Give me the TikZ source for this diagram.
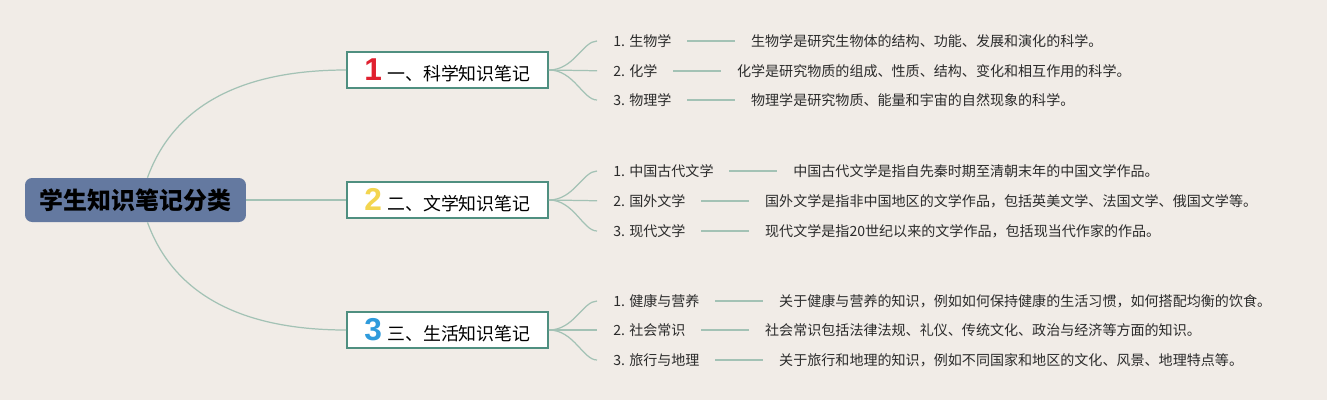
\documentclass[tikz,border=0pt]{standalone}
\usepackage{fontspec}
\setmainfont{Noto Sans CJK SC}
\newfontfamily\numfont{Liberation Sans}
\usepackage{xcolor}
\usetikzlibrary{positioning}

\definecolor{paper}{HTML}{F1ECE7}
\definecolor{rootblue}{HTML}{6479A0}
\definecolor{boxteal}{HTML}{4F8F80}
\definecolor{wirecol}{HTML}{A3C2B5}
\definecolor{numred}{HTML}{E0202F}
\definecolor{numyellow}{HTML}{F3D54F}
\definecolor{numblue}{HTML}{2F9BDC}
\definecolor{ink}{HTML}{2B2B2B}

\newcommand\topicnum[2]{{\numfont\fontsize{18}{18}\selectfont\bfseries\color{#1}#2}\hspace{3pt}}

\begin{document}
\begin{tikzpicture}[
  x=0.02cm, y=-0.02cm,
  root/.style={fill=rootblue, rounded corners=4pt, minimum width=4.42cm,
               minimum height=0.88cm, text=black,
               font=\fontsize{13.6}{16}\selectfont\bfseries},
  topic/.style={draw=boxteal, line width=1.1pt, fill=white, minimum width=4.02cm,
                minimum height=0.72cm, text=black, font=\fontsize{10.2}{12}\selectfont},
  leaf/.style={anchor=west, inner sep=0pt, text=ink, font=\fontsize{8.0}{10}\selectfont},
  wire/.style={draw=wirecol, line width=0.7pt},
  twig/.style={wire, shorten >=0.32cm},
  stem/.style={wire, shorten <=0.31cm, shorten >=0.31cm}
]
  % canvas
  \fill[paper] (0,0) rectangle (1327,400);
  \useasboundingbox (0,0) rectangle (1327,400);

  % Root
  \node[root] (root) at (135.5,200) {学生知识笔记分类};

  % Topics
  \node[topic] (sci) at (447.5,70) {\topicnum{numred}{1}一、科学知识笔记};
  \node[topic] (lit) at (447.5,200) {\topicnum{numyellow}{2}二、文学知识笔记};
  \node[topic] (life) at (447.5,330) {\topicnum{numblue}{3}三、生活知识笔记};

  % Science leaves
  \node[leaf] (bio) at (613,41) {1. 生物学};
  \node[leaf] (chem) at (613,71) {2. 化学};
  \node[leaf] (phys) at (613,100) {3. 物理学};
  \node[leaf, right=1.58cm of bio] (biod) {生物学是研究生物体的结构、功能、发展和演化的科学。};
  \node[leaf, right=1.58cm of chem] (chemd) {化学是研究物质的组成、性质、结构、变化和相互作用的科学。};
  \node[leaf, right=1.58cm of phys] (physd) {物理学是研究物质、能量和宇宙的自然现象的科学。};

  % Literature leaves
  \node[leaf] (anc) at (613,171) {1. 中国古代文学};
  \node[leaf] (frn) at (613,201) {2. 国外文学};
  \node[leaf] (mod) at (613,231) {3. 现代文学};
  \node[leaf, right=1.58cm of anc] (ancd) {中国古代文学是指自先秦时期至清朝末年的中国文学作品。};
  \node[leaf, right=1.58cm of frn] (frnd) {国外文学是指非中国地区的文学作品，包括英美文学、法国文学、俄国文学等。};
  \node[leaf, right=1.58cm of mod] (modd) {现代文学是指20世纪以来的文学作品，包括现当代作家的作品。};

  % Life leaves
  \node[leaf] (hlth) at (613,301) {1. 健康与营养};
  \node[leaf] (soc) at (613,330) {2. 社会常识};
  \node[leaf] (trav) at (613,360) {3. 旅行与地理};
  \node[leaf, right=1.58cm of hlth] (hlthd) {关于健康与营养的知识，例如如何保持健康的生活习惯，如何搭配均衡的饮食。};
  \node[leaf, right=1.58cm of soc] (socd) {社会常识包括法律法规、礼仪、传统文化、政治与经济等方面的知识。};
  \node[leaf, right=1.58cm of trav] (travd) {关于旅行和地理的知识，例如不同国家和地区的文化、风景、地理特点等。};

  % wires
  \draw[wire] ([xshift=0.24cm]root.north) .. controls (172,110) and (235,70) .. (sci.west);
  \draw[wire] (root.east) -- (lit.west);
  \draw[wire] ([xshift=0.24cm]root.south) .. controls (172,290) and (235,330) .. (life.west);

  \foreach \t/\a/\b/\c in {sci/bio/chem/phys, lit/anc/frn/mod, life/hlth/soc/trav} {
    \draw[twig] (\t.east) .. controls +(25,0) and +(-30,0) .. (\a.west);
    \draw[twig] (\t.east) -- (\b.west);
    \draw[twig] (\t.east) .. controls +(25,0) and +(-30,0) .. (\c.west);
  }

  \draw[stem] (bio) -- (biod);
  \draw[stem] (chem) -- (chemd);
  \draw[stem] (phys) -- (physd);
  \draw[stem] (anc) -- (ancd);
  \draw[stem] (frn) -- (frnd);
  \draw[stem] (mod) -- (modd);
  \draw[stem] (hlth) -- (hlthd);
  \draw[stem] (soc) -- (socd);
  \draw[stem] (trav) -- (travd);
\end{tikzpicture}
\end{document}
